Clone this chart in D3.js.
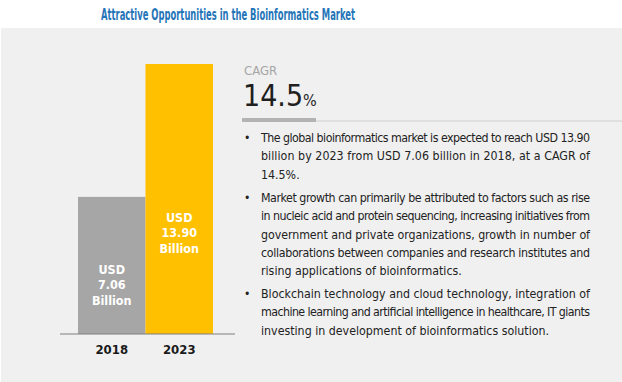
<!DOCTYPE html>
<html><head><meta charset="utf-8">
<script src="https://cdn.jsdelivr.net/npm/d3@7"></script>
<style>body{margin:0;background:#fff}svg{display:block}</style>
</head><body><svg id="c" width="622" height="382"></svg>
<script>
const years = ["2018", "2023"];
const values = [7.06, 13.90];
const barColors = ["#a6a6a6", "#ffc000"];
const barLabels = [["USD", "7.06", "Billion"], ["USD", "13.90", "Billion"]];
const title = "Attractive Opportunities in the Bioinformatics Market";
const cagrLabel = "CAGR";
const cagrValue = "14.5";
const bullets = [
  ["The global bioinformatics market is expected to reach USD 13.90",
   "billion by 2023 from USD 7.06 billion in 2018, at a CAGR of",
   "14.5%."],
  ["Market growth can primarily be attributed to factors such as rise",
   "in nucleic acid and protein sequencing, increasing initiatives from",
   "government and private organizations, growth in number of",
   "collaborations between companies and research institutes and",
   "rising applications of bioinformatics."],
  ["Blockchain technology and cloud technology, integration of",
   "machine learning and artificial intelligence in healthcare, IT giants",
   "investing in development of bioinformatics solution."]
];

const narrow = "'Liberation Sans Narrow','DejaVu Sans Condensed','Roboto Condensed',Arial,sans-serif";
const svg = d3.select("#c");

svg.append("rect").attr("x",1).attr("y",28).attr("width",621).attr("height",354).attr("fill","#f0f0f0");

svg.append("text").attr("x",101).attr("y",20).attr("font-family",narrow).attr("font-weight","bold")
  .attr("font-size",15).attr("fill","#2474b8").attr("textLength",254).attr("lengthAdjust","spacingAndGlyphs")
  .text(title);

// bars
const x = d3.scaleBand().domain(years).range([78, 213]).padding(0);
const y = d3.scaleLinear().domain([0, 13.90]).range([334, 64]);

svg.selectAll("rect.bar").data(years).join("rect").attr("class","bar")
  .attr("x", d=>x(d)).attr("width", x.bandwidth())
  .attr("y", (d,i)=>y(values[i])).attr("height",(d,i)=>334-y(values[i]))
  .attr("fill",(d,i)=>barColors[i]);

const axis = svg.append("g").attr("transform","translate(0,334)")
  .call(d3.axisBottom(x).tickSize(0).tickPadding(11));
axis.select(".domain").remove();
axis.append("line").attr("x1",60).attr("x2",235).attr("stroke","#7f7f7f").attr("stroke-width",1);
axis.selectAll(".tick text").attr("font-family",narrow).attr("font-weight","bold")
  .attr("font-size",13).attr("fill","#1a1a1a");

// bar labels
const labelTop = [269, 217];
years.forEach((yr,i)=>{
  const cx = x(yr) + x.bandwidth()/2;
  barLabels[i].forEach((t,j)=>{
    svg.append("text").attr("x",cx).attr("y",labelTop[i]+ j*15.5 + 4.5)
      .attr("text-anchor","middle").attr("font-family",narrow).attr("font-weight","bold")
      .attr("font-size",12.5).attr("fill","#fff").text(t);
  });
});

// CAGR
svg.append("text").attr("x",244).attr("y",75).attr("font-family",narrow).attr("font-size",13)
  .attr("fill","#a6a6a6").text(cagrLabel);
const ct = svg.append("text").attr("x",243).attr("y",106).attr("font-family",narrow).attr("fill","#1f1f1f");
ct.append("tspan").attr("font-size",30).text(cagrValue);
ct.append("tspan").attr("font-size",16).text("%");
svg.append("line").attr("x1",242).attr("x2",622).attr("y1",121).attr("y2",121).attr("stroke","#cfcfcf").attr("stroke-width",1);
svg.append("rect").attr("x",242).attr("y",118).attr("width",74).attr("height",4).attr("fill","#b3b3b3");

// bullets
const bulletStart = [138, 198, 294];
const lh = 18.3;
const left = 261, right = 590;
bullets.forEach((lines,b)=>{
  svg.append("text").attr("x",244).attr("y",bulletStart[b]+4).attr("font-family",narrow)
    .attr("font-size",12).attr("fill","#222").text("•");
  lines.forEach((ln,k)=>{
    const t = svg.append("text").attr("x",left).attr("y",bulletStart[b]+k*lh+4)
      .attr("font-family",narrow).attr("font-size",12.3).attr("fill","#222").text(ln);
    if (k < lines.length-1) t.attr("textLength", right-left).attr("lengthAdjust","spacing");
  });
});
</script></body></html>
